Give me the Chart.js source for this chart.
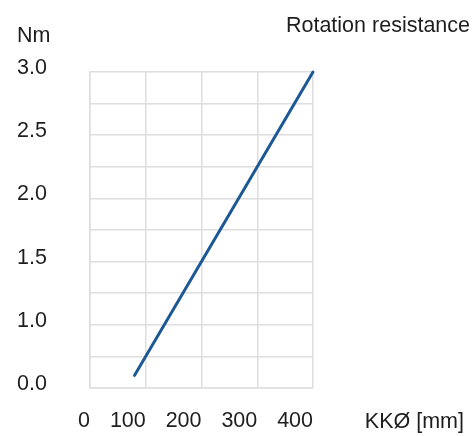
<!DOCTYPE html>
<html>
<head>
<meta charset="utf-8">
<script src="https://cdn.jsdelivr.net/npm/chart.js"></script>
<style>
  html, body { margin: 0; padding: 0; background: #fff; }
</style>
</head>
<body>
<canvas id="myChart" width="474" height="436"></canvas>
<script>
  // values
  const diameters = [80, 400];       // KKØ [mm]
  const resistance = [0.6, 3.0];     // Nm
  const xTickLabels = ['0', '100', '200', '300', '400'];
  // the original labels the lowest grid line "0.0"
  const yTickLabels = ['0.0', '', '1.0', '', '1.5', '', '2.0', '', '2.5', '', '3.0'];

  const titleText = 'Rotation resistance';
  const yUnit = 'Nm';
  const xUnit = 'KKØ [mm]';

  const textColor = '#1e1e1e';
  const gridColor = '#dedede';
  const fontFamily = '"Liberation Sans", Arial, sans-serif';

  const axisText = {
    id: 'axisText',
    afterDraw(chart) {
      const c = chart.ctx;
      c.save();
      c.font = '21.5px ' + fontFamily;
      c.fillStyle = textColor;
      c.textBaseline = 'alphabetic';
      c.textAlign = 'left';
      c.fillText(yUnit, 17, 42);
      c.textAlign = 'right';
      c.fillText(titleText, chart.width - 4, 32);
      c.fillText(xUnit, chart.width - 10, 428);
      c.restore();
    }
  };

  const ctx = document.getElementById('myChart');
  new Chart(ctx, {
    type: 'line',
    data: {
      datasets: [{
        data: diameters.map((d, i) => ({ x: d, y: resistance[i] })),
        borderColor: '#1c5894',
        borderWidth: 3,
        borderCapStyle: 'round',
        pointRadius: 0,
        tension: 0,
        clip: false
      }]
    },
    options: {
      responsive: false,
      animation: false,
      layout: { padding: { left: 17, right: 161, top: 72, bottom: 3 } },
      plugins: {
        legend: { display: false },
        tooltip: { enabled: false }
      },
      scales: {
        x: {
          type: 'linear',
          min: 0,
          max: 400,
          afterFit: s => { s.height = 45; },
          grid: { color: gridColor, lineWidth: 1.5, drawTicks: false },
          border: { color: gridColor, width: 1.5 },
          ticks: {
            stepSize: 100,
            align: 'end',
            padding: 20,
            color: textColor,
            font: { family: fontFamily, size: 21.5 },
            maxRotation: 0,
            callback: (v, i) => xTickLabels[i]
          }
        },
        y: {
          min: 0.5,
          max: 3.0,
          afterFit: s => { s.width = 73; },
          grid: { color: gridColor, lineWidth: 1.5, drawTicks: false },
          border: { color: gridColor, width: 1.5 },
          ticks: {
            stepSize: 0.25,
            crossAlign: 'far',
            labelOffset: -4,
            autoSkip: false,
            color: textColor,
            font: { family: fontFamily, size: 21.5 },
            callback: (v, i) => yTickLabels[i]
          }
        }
      }
    },
    plugins: [axisText]
  });
</script>
</body>
</html>
